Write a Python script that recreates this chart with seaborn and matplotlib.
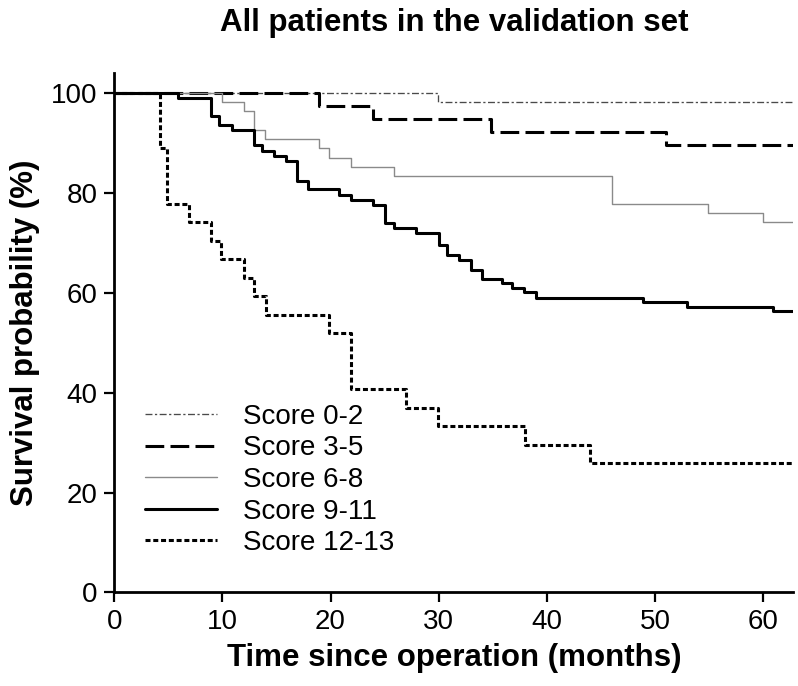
import matplotlib
matplotlib.use('Agg')
import matplotlib.pyplot as plt
import seaborn as sns
import pandas as pd
from matplotlib import font_manager

sns.set_style('ticks')
plt.rcParams['font.family'] = ['Liberation Sans', 'DejaVu Sans']
plt.rcParams['lines.scale_dashes'] = False
plt.rcParams['text.color'] = 'black'
plt.rcParams['axes.labelcolor'] = 'black'
plt.rcParams['xtick.color'] = 'black'
plt.rcParams['ytick.color'] = 'black'

# ---------------------------- data ----------------------------
groups = ['Score 0-2', 'Score 3-5', 'Score 6-8', 'Score 9-11', 'Score 12-13']

t_02 = [0, 29.9, 62.8]
s_02 = [100, 98.1, 98.1]

t_35 = [0, 18.9, 23.9, 34.8, 51.0, 62.8]
s_35 = [100, 97.4, 94.7, 92.1, 89.5, 89.5]

t_68 = [0, 10.0, 12.0, 12.9, 13.9, 18.9, 19.9, 21.9, 25.9, 46.0, 54.9, 60.0, 62.8]
s_68 = [100, 98.1, 96.3, 92.6, 90.7, 88.9, 87.0, 85.2, 83.3, 77.8, 75.9, 74.1, 74.1]

t_911 = [0, 5.9, 8.9, 9.7, 10.9, 12.9, 13.7, 14.8, 15.9, 16.9, 17.9, 20.8, 21.9, 23.9, 25.0,
         25.9, 27.9, 30.0, 30.8, 31.9, 33.0, 34.0, 35.9, 36.8, 37.9, 39.0, 48.9, 53.0, 60.9, 62.8]
s_911 = [100, 98.9, 95.3, 93.6, 92.6, 89.6, 88.3, 87.3, 86.3, 82.3, 80.8, 79.6, 78.6, 77.6, 73.9,
         72.9, 71.9, 69.5, 67.6, 66.5, 64.6, 62.8, 61.9, 60.9, 60.1, 58.9, 58.1, 57.1, 56.3, 56.3]

t_1213 = [0, 4.2, 4.9, 6.9, 8.9, 9.9, 12.0, 12.9, 14.0, 19.9, 21.9, 27.0, 29.9, 38.0, 44.0, 62.8]
s_1213 = [100, 88.9, 77.8, 74.1, 70.4, 66.7, 63.0, 59.3, 55.6, 51.9, 40.7, 37.0, 33.3, 29.6, 25.9, 25.9]

times = [t_02, t_35, t_68, t_911, t_1213]
surv = [s_02, s_35, s_68, s_911, s_1213]

# line styles per group
colors = ['#4a4a4a', 'black', '#8a8a8a', 'black', 'black']
widths = [0.95, 2.2, 1.0, 2.2, 2.2]
styles = [(0, (5.0, 1.8, 1.6, 1.8)), (0, (13.5, 4.5)), '-', '-', (0, (3.6, 2.0))]

# ---------------------------- fonts ----------------------------
names = {f.name for f in font_manager.fontManager.ttflist}
if 'Liberation Sans Narrow' in names:
    label_font = dict(family=['Liberation Sans Narrow', 'Liberation Sans'], fontweight='bold', fontsize=27)
else:
    label_font = dict(family=['Liberation Sans', 'DejaVu Sans'], fontweight='bold', fontsize=22.5)

fig, ax = plt.subplots(figsize=(7.98, 6.86), dpi=100)
fig.subplots_adjust(left=0.1432, right=0.9941, bottom=0.1363, top=0.894)

for name, t, s, c, w, ls in zip(groups, times, surv, colors, widths, styles):
    df = pd.DataFrame({'t': t, 's': s})
    sns.lineplot(data=df, x='t', y='s', ax=ax, drawstyle='steps-post', color=c, linewidth=w,
                 linestyle=ls, label=name, estimator=None, sort=False)

ax.set_xlim(0, 62.8)
ax.set_ylim(0, 104)
ax.set_xticks(range(0, 61, 10))
ax.set_yticks(range(0, 101, 20))
ax.tick_params(axis='both', direction='out', length=7, width=1.6, labelsize=20, pad=5, color='black')
for side in ['top', 'right']:
    ax.spines[side].set_visible(False)
for side in ['left', 'bottom']:
    ax.spines[side].set_linewidth(2.0)
    ax.spines[side].set_color('black')

ax.set_xlabel('Time since operation (months)', labelpad=6, **label_font)
ax.set_ylabel('Survival probability (%)', labelpad=8, **label_font)
ax.set_title('All patients in the validation set', pad=30, **label_font)

ax.legend(loc='lower left', bbox_to_anchor=(0.045, 0.07), frameon=False, fontsize=20,
          handlelength=2.6, handletextpad=0.95, labelspacing=0.2, borderpad=0, borderaxespad=0)

fig.savefig('out.png', dpi=100)
